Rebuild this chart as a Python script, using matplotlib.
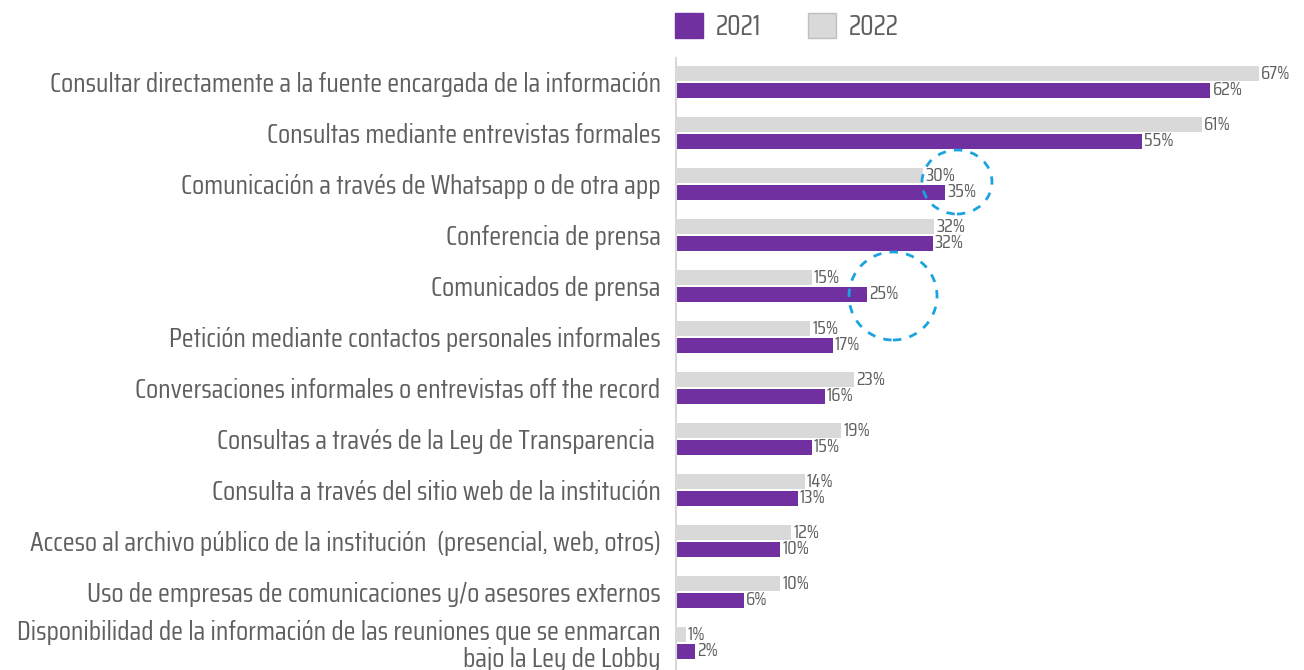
import matplotlib
matplotlib.use('Agg')
import matplotlib.pyplot as plt
from matplotlib.patches import Ellipse, Patch
import numpy as np

plt.rcParams['font.family'] = ['Saira Condensed', 'DejaVu Sans']

cats = ['Consultar directamente a la fuente encargada de la información',
        'Consultas mediante entrevistas formales',
        'Comunicación a través de Whatsapp o de otra app',
        'Conferencia de prensa',
        'Comunicados de prensa',
        'Petición mediante contactos personales informales',
        'Conversaciones informales o entrevistas off the record',
        'Consultas a través de la Ley de Transparencia ',
        'Consulta a través del sitio web de la institución',
        'Acceso al archivo público de la institución  (presencial, web, otros)',
        'Uso de empresas de comunicaciones y/o asesores externos',
        'Disponibilidad de la información de las reuniones que se enmarcan\nbajo la Ley de Lobby']
# bar lengths as drawn in the picture
bar2022 = [67.0, 60.4, 28.4, 29.7, 15.6, 15.4, 20.4, 19.0, 14.8, 13.2, 12.0, 1.1]
bar2021 = [61.4, 53.5, 30.9, 29.5, 21.9, 18.0, 17.1, 15.6, 14.0, 12.0, 7.8, 2.2]
# percentages printed next to the bars
lab2022 = ['67%', '61%', '30%', '32%', '15%', '15%', '23%', '19%', '14%', '12%', '10%', '1%']
lab2021 = ['62%', '55%', '35%', '32%', '25%', '17%', '16%', '15%', '13%', '10%', '6%', '2%']

PURPLE, GREY, TXT = '#7030a0', '#d9d9d9', '#5f5f5f'

fig = plt.figure(figsize=(13.04, 6.70), dpi=100)
ax = fig.add_axes([676/1304, 0, (1259-676)/1304, 1-58/670])
y = np.arange(len(cats))
h, off = 0.28, 0.165
ax.barh(y - off, bar2022, height=h, color=GREY)
ax.barh(y + off, bar2021, height=h, color=PURPLE)
for yi, a, b, la, lb in zip(y, bar2022, bar2021, lab2022, lab2021):
    ax.text(a + 0.25, yi - off, la, va='center', ha='left', fontsize=14, color=TXT, clip_on=False)
    ax.text(b + 0.25, yi + off, lb, va='center', ha='left', fontsize=14, color=TXT, clip_on=False)

ax.set_xlim(0, 67)
ax.set_ylim(11.53, -0.47)
ax.set_yticks(y)
ax.set_yticklabels(cats, fontsize=19.8, color=TXT, ha='right', linespacing=1.1)
ax.tick_params(axis='y', length=0, pad=11)
ax.set_xticks([])
for s in ['top', 'right', 'bottom']:
    ax.spines[s].set_visible(False)
ax.spines['left'].set_color(GREY)
ax.spines['left'].set_linewidth(1.5)

# dashed highlight circles
for cx, cy, w, hh in [(957, 182, 70, 64), (893, 296, 88, 88)]:
    fig.add_artist(Ellipse((cx/1304, 1-cy/670), w/1304, hh/670, transform=fig.transFigure,
                           fill=False, ec='#1aa3e0', lw=2, ls=(0, (3, 3))))

handles = [Patch(fc=PURPLE, ec=PURPLE), Patch(fc=GREY, ec='#bfbfbf')]
fig.legend(handles, ['2021', '2022'], loc='upper left', bbox_to_anchor=(650/1304, 1.018),
           ncol=2, frameon=False, fontsize=20, handlelength=1.0, handleheight=1.0,
           columnspacing=1.7, handletextpad=0.45, labelcolor=TXT)

fig.savefig('out.png', dpi=100)
